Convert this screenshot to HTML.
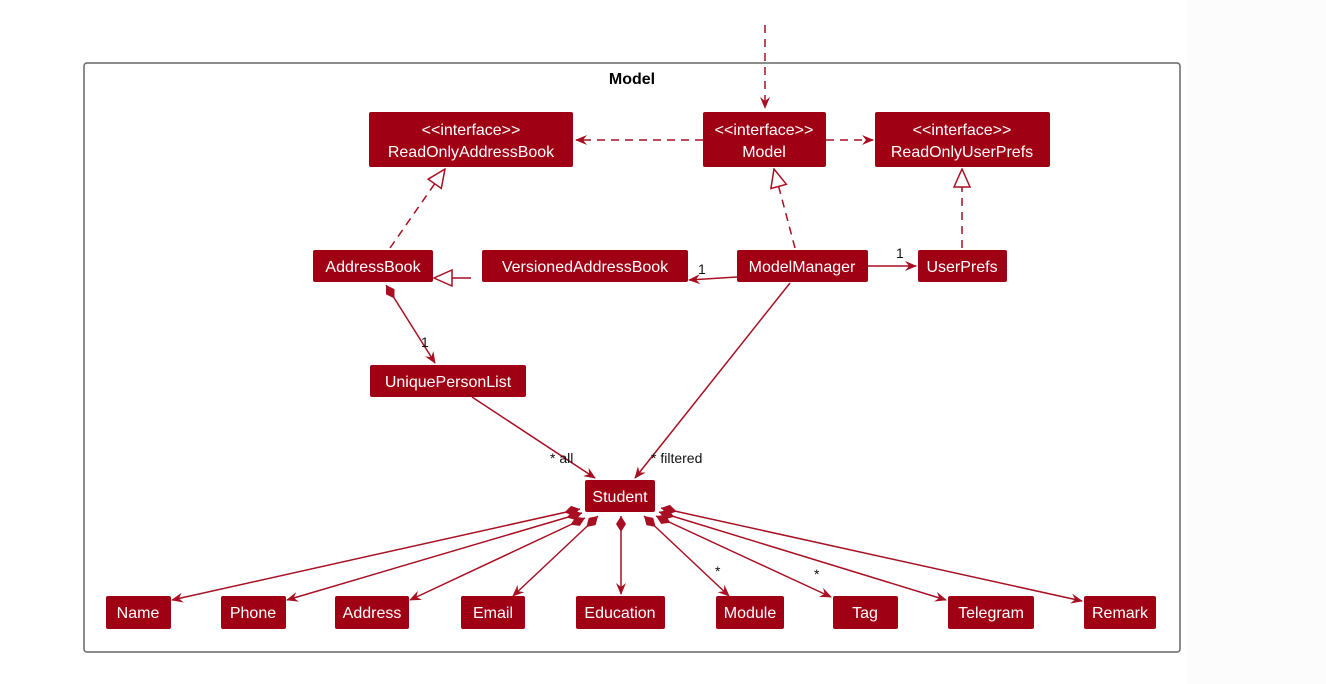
<!DOCTYPE html>
<html><head><meta charset="utf-8"><style>
html,body{margin:0;padding:0;background:#fff;}
body{width:1326px;height:684px;overflow:hidden;position:relative;}
svg{position:absolute;left:0;top:0;}
text{font-family:"Liberation Sans",sans-serif;}
.bt{fill:#fff;font-size:16px;text-anchor:middle;}
.lb{fill:#111;font-size:14px;}
</style></head><body>
<div style="position:absolute;left:1186px;top:0;width:140px;height:684px;background:#fcfcfc"></div>
<svg width="1326" height="684" viewBox="0 0 1326 684">
<defs>
<marker id="ar" viewBox="0 0 12 10" refX="11" refY="5" markerWidth="12" markerHeight="10" markerUnits="userSpaceOnUse" orient="auto">
<path d="M0,0 L12,5 L0,10 L4,5 Z" fill="#a80f22"/></marker>
<marker id="tri" viewBox="0 0 20 20" refX="19" refY="10" markerWidth="20" markerHeight="20" markerUnits="userSpaceOnUse" orient="auto">
<path d="M1,2 L19,10 L1,18 Z" fill="#fff" stroke="#a80f22" stroke-width="1.5"/></marker>
<marker id="dia" viewBox="0 0 20 10" refX="0" refY="5" markerWidth="20" markerHeight="10" markerUnits="userSpaceOnUse" orient="auto">
<path d="M0,5 L8,0 L16,5 L8,10 Z" fill="#a80f22"/></marker>
</defs>
<rect x="84" y="63" width="1096" height="589" rx="3" fill="none" stroke="#666" stroke-width="1.5"/>
<text x="632" y="84" font-size="16" font-weight="bold" text-anchor="middle" fill="#000">Model</text>

<g stroke="#a80f22" stroke-width="1.5" fill="none">
<line x1="765" y1="25" x2="765" y2="108" stroke-dasharray="8,6" marker-end="url(#ar)"/>
<line x1="703" y1="140" x2="576" y2="140" stroke-dasharray="8,6" marker-end="url(#ar)"/>
<line x1="826" y1="140" x2="873" y2="140" stroke-dasharray="8,6" marker-end="url(#ar)"/>
<line x1="390" y1="248" x2="445" y2="169" stroke-dasharray="8,6" marker-end="url(#tri)"/>
<line x1="795" y1="248" x2="774" y2="169" stroke-dasharray="8,6" marker-end="url(#tri)"/>
<line x1="962" y1="248" x2="962" y2="169" stroke-dasharray="8,6" marker-end="url(#tri)"/>
<line x1="471" y1="278" x2="434" y2="278" marker-end="url(#tri)"/>
<line x1="737" y1="277" x2="689" y2="280" marker-end="url(#ar)"/>
<line x1="868" y1="266" x2="916" y2="266" marker-end="url(#ar)"/>
<line x1="386" y1="285" x2="435" y2="363" marker-start="url(#dia)" marker-end="url(#ar)"/>
<line x1="472" y1="397" x2="595" y2="478" marker-end="url(#ar)"/>
<line x1="790" y1="283" x2="635" y2="478" marker-end="url(#ar)"/>
<line x1="580" y1="509" x2="172" y2="600" marker-start="url(#dia)" marker-end="url(#ar)"/>
<line x1="582" y1="513" x2="287" y2="600" marker-start="url(#dia)" marker-end="url(#ar)"/>
<line x1="585" y1="518" x2="410" y2="600" marker-start="url(#dia)" marker-end="url(#ar)"/>
<line x1="598" y1="516" x2="513" y2="596" marker-start="url(#dia)" marker-end="url(#ar)"/>
<line x1="621" y1="516" x2="621" y2="594" marker-start="url(#dia)" marker-end="url(#ar)"/>
<line x1="644" y1="516" x2="729" y2="596" marker-start="url(#dia)" marker-end="url(#ar)"/>
<line x1="656" y1="516" x2="831" y2="597" marker-start="url(#dia)" marker-end="url(#ar)"/>
<line x1="659" y1="512" x2="946" y2="600" marker-start="url(#dia)" marker-end="url(#ar)"/>
<line x1="661" y1="508" x2="1082" y2="601" marker-start="url(#dia)" marker-end="url(#ar)"/>
</g>

<text class="lb" x="698" y="274">1</text>
<text class="lb" x="896" y="258">1</text>
<text class="lb" x="421" y="347">1</text>
<text class="lb" x="550" y="463">* all</text>
<text class="lb" x="651" y="463">* filtered</text>
<text class="lb" x="715" y="576">*</text>
<text class="lb" x="814" y="579">*</text>

<g fill="#a00014">
<rect x="369" y="112" width="204" height="55" rx="2"/>
<rect x="703" y="112" width="123" height="55" rx="2"/>
<rect x="875" y="112" width="175" height="55" rx="2"/>
<rect x="313" y="250" width="120" height="32" rx="2"/>
<rect x="482" y="250" width="206" height="32" rx="2"/>
<rect x="737" y="250" width="131" height="32" rx="2"/>
<rect x="918" y="250" width="89" height="32" rx="2"/>
<rect x="370" y="365" width="156" height="32" rx="2"/>
<rect x="585" y="480" width="70" height="32" rx="2"/>
<rect x="106" y="596" width="65" height="33" rx="2"/>
<rect x="221" y="596" width="65" height="33" rx="2"/>
<rect x="335" y="596" width="74" height="33" rx="2"/>
<rect x="461" y="596" width="64" height="33" rx="2"/>
<rect x="576" y="596" width="89" height="33" rx="2"/>
<rect x="716" y="596" width="68" height="33" rx="2"/>
<rect x="833" y="596" width="65" height="33" rx="2"/>
<rect x="948" y="596" width="86" height="33" rx="2"/>
<rect x="1084" y="596" width="72" height="33" rx="2"/>
</g>
<text class="bt" x="471" y="135">&lt;&lt;interface&gt;&gt;</text>
<text class="bt" x="471" y="157">ReadOnlyAddressBook</text>
<text class="bt" x="764" y="135">&lt;&lt;interface&gt;&gt;</text>
<text class="bt" x="764" y="157">Model</text>
<text class="bt" x="962" y="135">&lt;&lt;interface&gt;&gt;</text>
<text class="bt" x="962" y="157">ReadOnlyUserPrefs</text>
<text class="bt" x="373" y="272">AddressBook</text>
<text class="bt" x="585" y="272">VersionedAddressBook</text>
<text class="bt" x="802" y="272">ModelManager</text>
<text class="bt" x="962" y="272">UserPrefs</text>
<text class="bt" x="448" y="387">UniquePersonList</text>
<text class="bt" x="620" y="502">Student</text>
<text class="bt" x="138" y="618">Name</text>
<text class="bt" x="253" y="618">Phone</text>
<text class="bt" x="372" y="618">Address</text>
<text class="bt" x="493" y="618">Email</text>
<text class="bt" x="620" y="618">Education</text>
<text class="bt" x="750" y="618">Module</text>
<text class="bt" x="865" y="618">Tag</text>
<text class="bt" x="991" y="618">Telegram</text>
<text class="bt" x="1120" y="618">Remark</text>
</svg>
</body></html>
